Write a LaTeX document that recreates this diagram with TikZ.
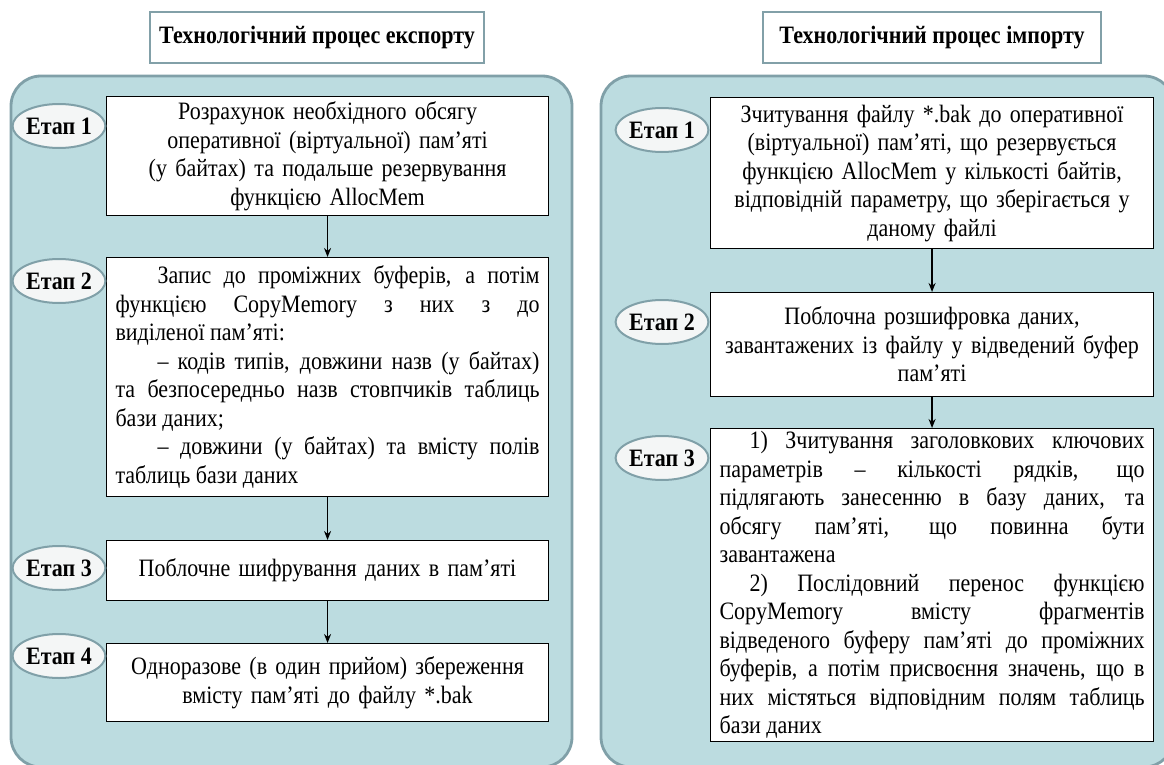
\documentclass[tikz,border=0pt]{standalone}
\usepackage{fontspec}
\setmainfont{Liberation Serif}[FakeStretch=0.88]
\usetikzlibrary{shapes.geometric,arrows.meta}
\definecolor{panelfill}{RGB}{188,220,224}
\definecolor{paneldraw}{RGB}{128,160,168}
\definecolor{titledraw}{RGB}{130,160,168}
\definecolor{ellfill}{RGB}{244,246,246}
\tolerance=10000
\pretolerance=-1
\hyphenpenalty=10000
\begin{document}
\begin{tikzpicture}[x=1pt,y=-1pt,
  panel/.style={draw=paneldraw, line width=2.8pt, fill=panelfill, rounded corners=30pt},
  titlebox/.style={draw=titledraw, line width=2.2pt, fill=white, inner sep=0pt,
    minimum height=51pt, font=\fontsize{25}{28}\selectfont\bfseries},
  stepbox/.style={draw=black, line width=1.1pt, fill=white, anchor=north west,
    inner xsep=9pt, inner ysep=3pt, font=\fontsize{25}{28.5}\selectfont},
  etap/.style={ellipse, draw=paneldraw, line width=2pt, fill=ellfill,
    minimum width=84pt, minimum height=44pt, inner sep=0pt,
    font=\fontsize{25}{28}\selectfont\bfseries},
  arr/.style={-{Stealth[length=9pt,width=7pt]}, line width=1.6pt}]
\useasboundingbox (0,0) rectangle (1164,765);

% panels
\draw[panel] (11,76) rectangle (572,767);
\draw[panel] (601,76) rectangle (1174,767);

% titles
\node[titlebox, minimum width=334pt] (tl) at (317,37.5) {Технологічний процес експорту};
\node[titlebox, minimum width=338pt] (tr) at (932,37.5) {Технологічний процес імпорту};

% left column
\node[stepbox, text width=424pt, minimum height=119pt, align=center] (L1) at (106,96)
 {Розрахунок необхідного обсягу\\оперативної (віртуальної) пам’яті\\(у байтах) та подальше резервування\\функцією AllocMem};
\node[stepbox, text width=424pt, minimum height=239pt, align=justify] (L2) at (106,257)
 {\hspace*{42pt}Запис до проміжних буферів, а потім\linebreak функцією CopyMemory з них з до\linebreak виділеної пам’яті:\par
  \hspace*{42pt}– кодів типів, довжини назв (у байтах)\linebreak та безпосередньо назв стовпчиків таблиць\linebreak бази даних;\par
  \hspace*{42pt}– довжини (у байтах) та вмісту полів\linebreak таблиць бази даних};
\node[stepbox, text width=424pt, minimum height=60pt, align=center] (L3) at (106,540)
 {Поблочне шифрування даних в пам’яті};
\node[stepbox, text width=424pt, minimum height=78pt, align=center] (L4) at (106,643)
 {Одноразове (в один прийом) збереження\\вмісту пам’яті до файлу *.bak};

\node[etap] (e1) at (59,126) {Етап 1};
\node[etap] (e2) at (59,281) {Етап 2};
\node[etap] (e3) at (59,568) {Етап 3};
\node[etap] (e4) at (59,656) {Етап 4};

\draw[arr] (L1.south) -- (L2.north);
\draw[arr] (L2.south) -- (L3.north);
\draw[arr] (L3.south) -- (L4.north);

% right column
\node[stepbox, text width=425pt, minimum height=151pt, align=center] (R1) at (710,97)
 {Зчитування файлу *.bak до оперативної\\(віртуальної) пам’яті, що резервується\\функцією AllocMem у кількості байтів,\\відповідній параметру, що зберігається у\\даному файлі};
\node[stepbox, text width=425pt, minimum height=104pt, align=center] (R2) at (710,292)
 {Поблочна розшифровка даних,\\завантажених із файлу у відведений буфер\\пам’яті};
\node[stepbox, text width=425pt, minimum height=309pt, align=justify] (R3) at (710,428)
 {\hspace*{30pt}1) Зчитування заголовкових ключових\linebreak параметрів – кількості рядків, що\linebreak підлягають занесенню в базу даних, та\linebreak обсягу пам’яті, що повинна бути\linebreak завантажена\par
  \hspace*{30pt}2) Послідовний перенос функцією\linebreak CopyMemory вмісту фрагментів\linebreak відведеного буферу пам’яті до проміжних\linebreak буферів, а потім присвоєння значень, що в\linebreak них містяться відповідним полям таблиць\linebreak бази даних};

\node[etap] (f1) at (662,130) {Етап 1};
\node[etap] (f2) at (662,322) {Етап 2};
\node[etap] (f3) at (662,458) {Етап 3};

\draw[arr] (R1.south) -- (R2.north);
\draw[arr] (R2.south) -- (R3.north);
\end{tikzpicture}
\end{document}
